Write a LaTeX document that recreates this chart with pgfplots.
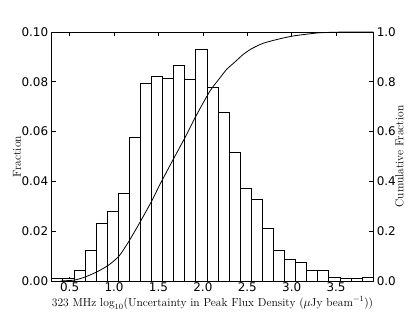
\documentclass[border=0pt]{standalone}
\usepackage{fontspec}
\usepackage{pgfplots}
\pgfplotsset{compat=1.18}
\newfontfamily\tickfont{DejaVu Sans}
\begin{document}
\begin{tikzpicture}
\useasboundingbox (-51.7bp,-32bp) rectangle (363.3bp,281bp);
\begin{axis}[
  at={(0,0)}, anchor=south west, scale only axis,
  width=321.6bp, height=249bp,
  xmin=0.298, xmax=3.919, ymin=0, ymax=0.1,
  xtick={0.5,1.0,1.5,2.0,2.5,3.0,3.5},
  ytick={0,0.02,0.04,0.06,0.08,0.10},
  ytick pos=left,
  xticklabel style={inner sep=1.5bp, /pgf/number format/fixed, /pgf/number format/fixed zerofill, /pgf/number format/precision=1},
  yticklabel style={/pgf/number format/fixed, /pgf/number format/fixed zerofill, /pgf/number format/precision=2},
  /pgf/number format/assume math mode=true,
  ticklabel style={font=\tickfont\fontsize{12}{14}\selectfont},
  label style={font=\fontsize{11.6}{14}\selectfont},
  axis line style={line width=0.9bp},
  major tick style={line width=0.6bp, black},
  major tick length=4bp,
  xlabel={323 MHz $\log_{10}$(Uncertainty in Peak Flux Density ($\mu$Jy beam$^{-1}$))},
  ylabel={Fraction},
  xlabel style={at={(axis description cs:0.5,-0.088)}, anchor=center},
  ylabel style={at={(axis description cs:-0.108,0.5)}, anchor=center},
]
\addplot[ybar interval, fill=white, draw=black, line width=0.8bp] coordinates {
(0.298,0.0009) (0.423,0.0009) (0.548,0.0043) (0.673,0.0124) (0.797,0.0230)
(0.922,0.0278) (1.047,0.0350) (1.172,0.0577) (1.297,0.0792) (1.422,0.0820)
(1.547,0.0815) (1.671,0.0865) (1.796,0.0808) (1.921,0.0929) (2.046,0.0776)
(2.171,0.0677) (2.296,0.0515) (2.421,0.0371) (2.545,0.0328) (2.670,0.0212)
(2.795,0.0124) (2.920,0.0087) (3.045,0.0075) (3.170,0.0043) (3.294,0.0043)
(3.419,0.0013) (3.544,0.0009) (3.669,0.0009) (3.794,0.0016) (3.919,0.0016)
};
\end{axis}
\begin{axis}[
  at={(0,0)}, anchor=south west, scale only axis,
  width=321.6bp, height=249bp,
  xmin=0.298, xmax=3.919, ymin=0, ymax=1,
  hide x axis,
  ytick={0,0.2,0.4,0.6,0.8,1.0},
  ytick pos=right, yticklabel pos=right,
  yticklabel style={/pgf/number format/fixed, /pgf/number format/fixed zerofill, /pgf/number format/precision=1},
  /pgf/number format/assume math mode=true,
  ticklabel style={font=\tickfont\fontsize{12}{14}\selectfont},
  label style={font=\fontsize{11.6}{14}\selectfont},
  axis line style={line width=0.9bp},
  major tick style={line width=0.6bp, black},
  major tick length=4bp,
  ylabel={Cumulative Fraction},
  ylabel style={at={(axis description cs:1.0815,0.5)}, anchor=center, rotate=0},
]
\addplot[black, line width=0.8bp, smooth, tension=0.4] coordinates {
(0.40,0.0) (0.447,0.001) (0.560,0.004) (0.673,0.016) (0.804,0.036) (0.935,0.063)
(1.056,0.100) (1.168,0.160) (1.300,0.241) (1.424,0.321) (1.517,0.388)
(1.667,0.489) (1.799,0.576) (1.923,0.663) (2.080,0.763) (2.193,0.816)
(2.268,0.850) (2.362,0.880) (2.455,0.910) (2.549,0.933) (2.681,0.955)
(2.869,0.973) (3.018,0.984) (3.187,0.992) (3.319,0.997) (3.544,0.9995) (3.919,1.0)
};
\end{axis}
\end{tikzpicture}
\end{document}
